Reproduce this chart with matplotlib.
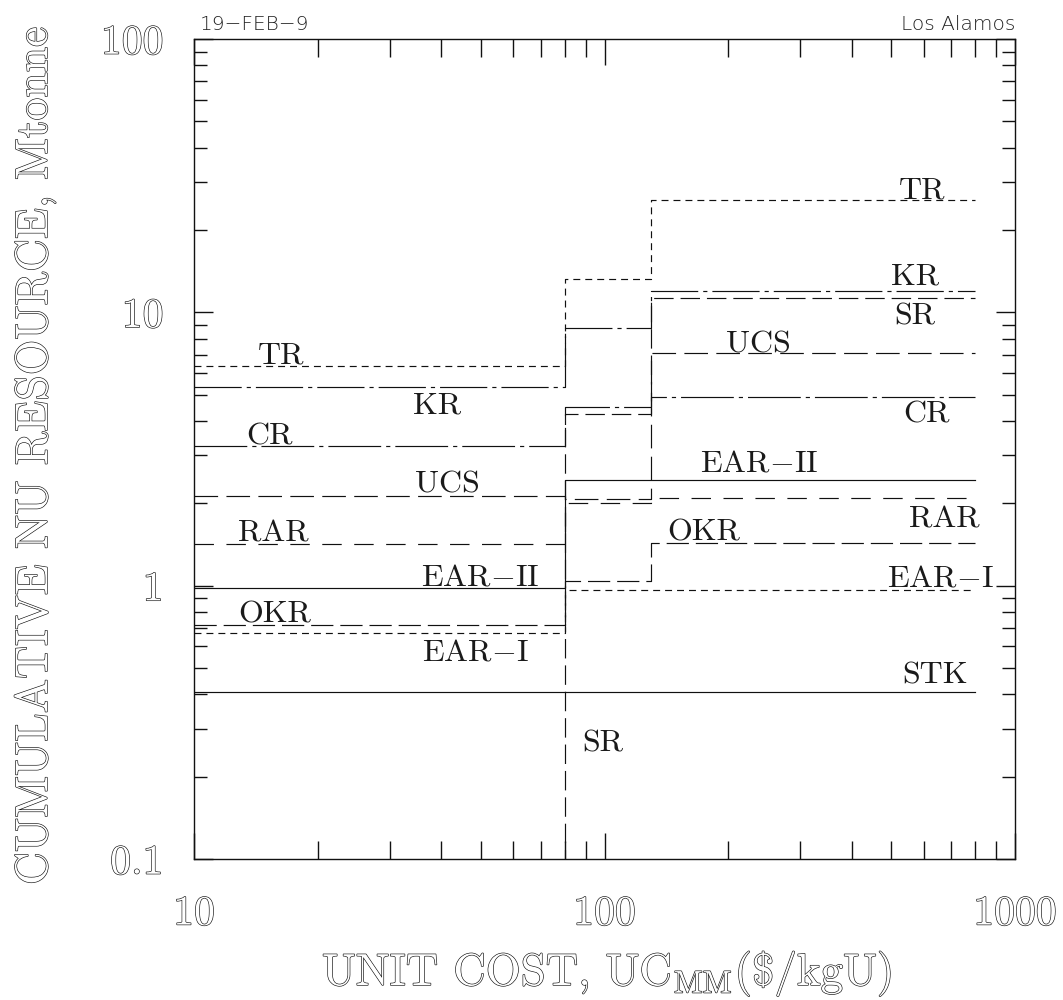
import matplotlib
matplotlib.use("Agg")
import matplotlib.pyplot as plt
import matplotlib.patheffects as pe
from matplotlib.ticker import LogLocator, NullFormatter

plt.rcParams['font.family'] = ['cmr10', 'DejaVu Serif']
plt.rcParams['mathtext.fontset'] = 'cm'
plt.rcParams['axes.formatter.use_mathtext'] = True
plt.rcParams['lines.scale_dashes'] = False

# ---------------- data ----------------
cost_edges = [10, 80, 130, 800]          # $/kgU, step boundaries

STK    = [0.409, 0.409, 0.409]
EAR_I  = [0.670, 0.964, 0.964]
OKR    = [0.716, 1.043, 1.437]
EAR_II = [0.983, 2.43, 2.43]
RAR    = [1.425, 2.00, 2.088]
UCS    = [2.135, 2.08, 7.12]
CR     = [3.23, 4.52, 4.89]
KR     = [5.35, 8.77, 12.0]
SR     = [0.0, 4.26, 11.3]
TR     = [6.37, 13.2, 25.8]

series_names = ['STK', 'EAR-I', 'OKR', 'EAR-II', 'RAR', 'UCS', 'CR', 'KR', 'SR', 'TR']
series_values = [STK, EAR_I, OKR, EAR_II, RAR, UCS, CR, KR, SR, TR]

x_ticks = [10, 100, 1000]
x_tick_labels = ['10', '100', '1000']
y_ticks = [0.1, 1, 10, 100]
y_tick_labels = ['0.1', '1', '10', '100']

# ---------------- styles ----------------
short_dash = (0, (5.0, 3.6))
styles = {
    'STK':    '-',
    'EAR-I':  short_dash,
    'OKR':    (0, (16, 5)),
    'EAR-II': '-',
    'RAR':    (0, (14, 9)),
    'UCS':    (0, (17, 6)),
    'CR':     (0, (38, 3.6, 3, 3.6)),
    'KR':     (0, (34, 3.6, 3, 3.6)),
    'SR':     (0, (14, 5)),
    'TR':     short_dash,
}

# label text, axes-fraction x, axes-fraction y (baseline)
left_labels = [
    ('TR', 0.1066, 0.6045), ('KR', 0.2966, 0.5435), ('CR', 0.0914, 0.5049),
    ('UCS', 0.3088, 0.4467), ('RAR', 0.0968, 0.3878), ('EAR$-$II', 0.3484, 0.3341),
    ('OKR', 0.0987, 0.2887), ('EAR$-$I', 0.3423, 0.2418),
]
right_labels = [
    ('TR', 0.8867, 0.8057), ('KR', 0.8788, 0.7009), ('SR', 0.8776, 0.6521),
    ('UCS', 0.6870, 0.6174), ('CR', 0.8922, 0.5321), ('EAR$-$II', 0.6888, 0.4723),
    ('RAR', 0.9135, 0.4045), ('OKR', 0.6206, 0.3882), ('EAR$-$I', 0.9093, 0.3321),
    ('STK', 0.9026, 0.2143), ('SR', 0.4982, 0.1309),
]

ink = '#111111'
outline = [pe.withStroke(linewidth=0.9, foreground=ink)]

W, H = 1063, 1000

# ---------------- figure ----------------
fig = plt.figure(figsize=(W/100, H/100), dpi=100)
ax = fig.add_axes([194/W, 1-859/H, 821/W, 820/H])
ax.set_xscale('log')
ax.set_yscale('log')

for name, vals in zip(series_names, series_values):
    ax.step(cost_edges, vals + [vals[-1]], where='post',
            color=ink, lw=0.85, linestyle=styles[name])

ax.set_xlim(10, 1000)
ax.set_ylim(0.1, 100)

ax.set_xticks(x_ticks, labels=x_tick_labels)
ax.set_yticks(y_ticks, labels=y_tick_labels)
ax.xaxis.set_minor_locator(LogLocator(base=10, subs=range(2, 10)))
ax.yaxis.set_minor_locator(LogLocator(base=10, subs=range(2, 10)))
ax.xaxis.set_minor_formatter(NullFormatter())
ax.yaxis.set_minor_formatter(NullFormatter())

ax.tick_params(axis='both', which='both', direction='in', top=True, right=True,
               color=ink, width=1.0)
ax.tick_params(axis='x', which='major', length=18.7, pad=26, labelsize=30,
               labelcolor='white')
ax.tick_params(axis='x', which='minor', length=13)
ax.tick_params(axis='y', which='major', length=13.7, pad=22, labelsize=30,
               labelcolor='white')
ax.tick_params(axis='y', which='minor', length=9.4)
for lab in ax.get_xticklabels() + ax.get_yticklabels():
    lab.set_path_effects(outline)
for sp in ax.spines.values():
    sp.set_linewidth(1.0)
    sp.set_color(ink)

for txt, fx, fy in left_labels + right_labels:
    ax.text(fx, fy, txt, transform=ax.transAxes, ha='center', va='baseline',
            fontsize=23, color='#1a1a1a')

xl = fig.text(322/W, 1-985/H, r'UNIT COST, UC$_{\mathrm{MM}}$(\$/kgU)',
              ha='left', va='baseline', fontsize=33, color='white',
              path_effects=outline)
yl = fig.text(47/W, 1-885/H, 'CUMULATIVE NU RESOURCE, Mtonne', rotation=90,
              rotation_mode='anchor', ha='left', va='baseline', fontsize=32,
              color='white', path_effects=outline)

# fit the two axis titles to the span they take in the reference
fig.canvas.draw()
r = fig.canvas.get_renderer()
bx = xl.get_window_extent(r)
xl.set_fontsize(xl.get_fontsize() * 570.0 / bx.width)
by = yl.get_window_extent(r)
yl.set_fontsize(yl.get_fontsize() * 857.0 / by.height)

fig.text(200/W, 1-30/H, '19\u2212FEB\u22129', ha='left', va='baseline',
         fontsize=14.5, family=['DejaVu Sans'], fontweight='light', color='#222222')
fig.text(1015/W, 1-30/H, 'Los Alamos', ha='right', va='baseline',
         fontsize=14.5, family=['DejaVu Sans'], fontweight='light', color='#222222')

fig.savefig('out.png', dpi=100)
